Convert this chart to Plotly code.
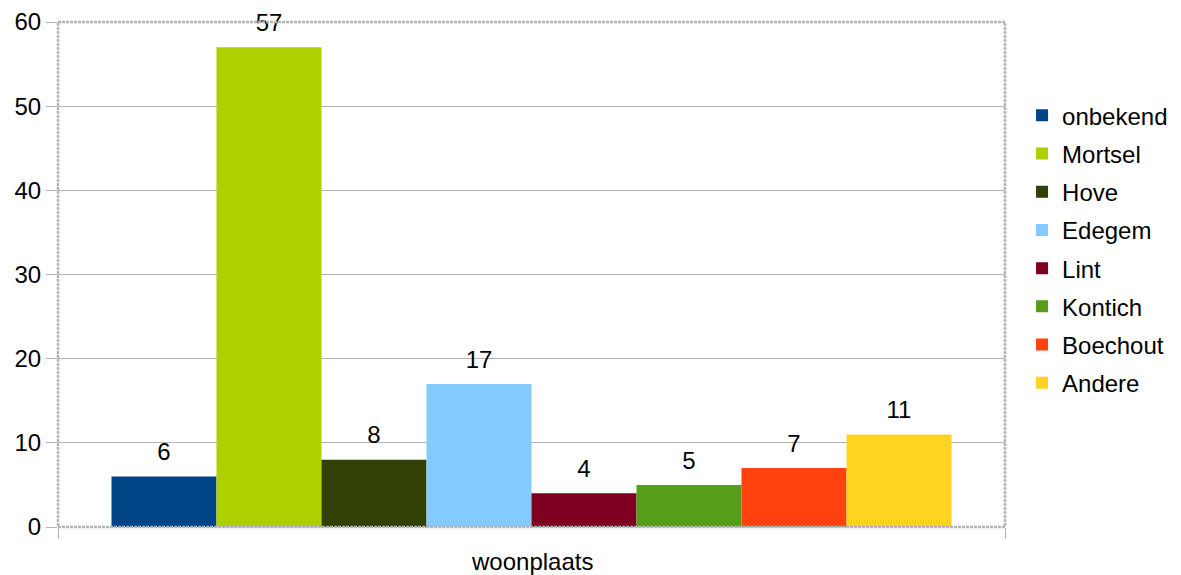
import plotly.graph_objects as go

CATEGORY = "woonplaats"
SERIES = ["onbekend", "Mortsel", "Hove", "Edegem", "Lint", "Kontich", "Boechout", "Andere"]
VALUES = [6, 57, 8, 17, 4, 5, 7, 11]
COLORS = ["#004586", "#aecf00", "#314004", "#83caff", "#7e0021", "#579d1c", "#ff420e", "#ffd320"]
Y_TICKS = [0, 10, 20, 30, 40, 50, 60]

FONT = "Liberation Sans, Arial, sans-serif"
GRID = "#b3b3b3"
LABEL_PAD = 1.0  # gap between bar top and its value label, in axis units

fig = go.Figure()
for name, val, col in zip(SERIES, VALUES, COLORS):
    fig.add_trace(go.Bar(
        x=[CATEGORY], y=[val], name=name, legendgroup=name, offsetgroup=name,
        marker=dict(color=col, line=dict(width=0)),
        hovertemplate=name + ": %{y}<extra></extra>",
    ))
    # invisible spacer bar that carries the label a little above the bar
    fig.add_trace(go.Bar(
        x=[CATEGORY], y=[LABEL_PAD], base=[val], offsetgroup=name,
        legendgroup=name, showlegend=False, hoverinfo="skip",
        marker=dict(color="rgba(0,0,0,0)", line=dict(width=0)),
        text=[str(val)], textposition="outside",
        textfont=dict(size=24, color="#000000"), cliponaxis=False,
    ))

# dotted frame round the plot area
fig.add_shape(type="rect", xref="paper", yref="paper", x0=0, x1=1, y0=0, y1=1,
              line=dict(color=GRID, width=2.5, dash="3px,1px"), layer="above")

fig.add_annotation(text=CATEGORY, xref="paper", yref="paper", x=0.5, y=0,
                   yanchor="middle", yshift=-34, showarrow=False,
                   font=dict(size=24, color="#000000"))

# the page body adds an 8px offset, so the figure is drawn 8px smaller
fig.update_layout(
    width=1173, height=567,
    margin=dict(l=50, r=176, t=14, b=48, autoexpand=False),
    paper_bgcolor="white", plot_bgcolor="white",
    font=dict(family=FONT, size=24, color="#000000"),
    barmode="group", bargap=0.113, bargroupgap=0,
    legend=dict(x=1.018, y=0.55, xanchor="left", yanchor="middle",
                font=dict(size=24), tracegroupgap=4, itemwidth=30),
    xaxis=dict(
        type="category", showticklabels=False, tickson="boundaries",
        ticks="outside", ticklen=11, tickcolor=GRID, showgrid=False,
        showline=False, zeroline=False,
    ),
    yaxis=dict(
        range=[0, 60], tickvals=Y_TICKS, ticks="outside", ticklen=11,
        tickcolor=GRID, gridcolor=GRID, gridwidth=1, showline=False,
        zeroline=False, tickfont=dict(size=24, color="#000000"),
    ),
)

fig.write_html("out.html")
